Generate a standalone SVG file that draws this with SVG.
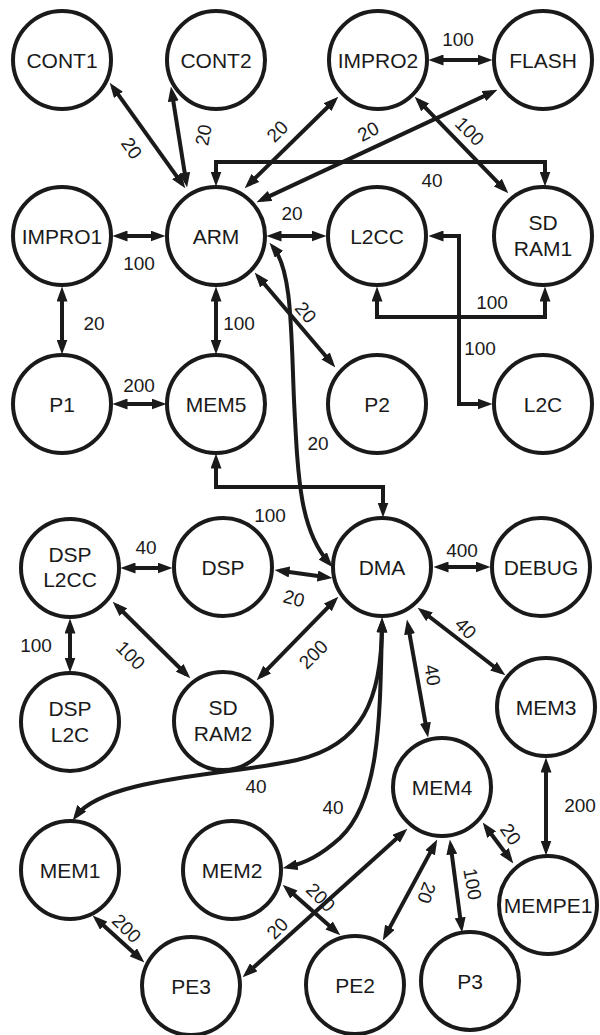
<svg xmlns="http://www.w3.org/2000/svg" width="600" height="1035" viewBox="0 0 600 1035">
  <style>
    .node circle { fill: #ffffff; stroke: #1a1a1a; stroke-width: 4; }
    .node text { font-family: "Liberation Sans", Arial, sans-serif; font-size: 21px; fill: #1a1a1a; text-anchor: middle; }
    .edge { fill: none; stroke: #1a1a1a; stroke-width: 4; marker-start: url(#ah); marker-end: url(#ah); }
    .lbl { font-family: "Liberation Sans", Arial, sans-serif; font-size: 19px; fill: #1a1a1a; text-anchor: middle; }
  </style>
  <defs>
    <marker id="ah" viewBox="0 0 15 11" refX="9.5" refY="5.5" markerWidth="15" markerHeight="11" markerUnits="userSpaceOnUse" orient="auto-start-reverse">
      <path d="M0,0 L15,5.5 L0,11 z" fill="#1a1a1a"/>
    </marker>
  </defs>
  <rect width="600" height="1035" fill="#ffffff"/>

  <!-- connectors -->
  <g id="connectors">
    <path class="edge" d="M112.9,87.1 L182.1,183.9"/>
    <path class="edge" d="M171.8,91.9 L186.2,182.1"/>
    <path class="edge" d="M248.6,184.5 L334.4,100.5"/>
    <path class="edge" d="M261.5,199.9 L492.5,92.1"/>
    <path class="edge" d="M418.5,100.6 L504.5,189.4"/>
    <path class="edge" d="M434,60 L487,60"/>
    <path class="edge" d="M216,181 L216,162 L545,162 L545,181"/>
    <path class="edge" d="M118,236 L160,236"/>
    <path class="edge" d="M272,236 L321,236"/>
    <path class="edge" d="M62,292 L62,349"/>
    <path class="edge" d="M216,292 L216,349"/>
    <path class="edge" d="M258.2,276.8 L331.8,363.2"/>
    <path class="edge" d="M273,247 C292,270 291,330 294,400 C298,480 300,530 329,563"/>
    <path class="edge" d="M377,292 L377,317 L545,317 L545,292"/>
    <path class="edge" d="M434,236 L459,236 L459,404 L487,404"/>
    <path class="edge" d="M118,404 L161,404"/>
    <path class="edge" d="M216,459 L216,487 L383,487 L383,512"/>
    <path class="edge" d="M126,568 L167,568"/>
    <path class="edge" d="M280,570.7 L327,577.3"/>
    <path class="edge" d="M439,567 L485,567"/>
    <path class="edge" d="M70,624 L70,667"/>
    <path class="edge" d="M116.6,605.5 L186.4,674.5"/>
    <path class="edge" d="M334.5,600.6 L260.5,676.4"/>
    <path class="edge" d="M422,611 L501,672"/>
    <path class="edge" d="M407.9,624.9 L427.1,732.1"/>
    <path class="edge" d="M382,623 C382,700 362,745 297,760 C232,775 105,777 76,816"/>
    <path class="edge" d="M382,623 C380,720 380,800 340,838 C320,856 305,863 288,867"/>
    <path class="edge" d="M546,763 L546,850"/>
    <path class="edge" d="M486,827 L510,859"/>
    <path class="edge" d="M450.6,845 L461.4,927"/>
    <path class="edge" d="M434.6,844.4 L385.4,935.6"/>
    <path class="edge" d="M403.3,832.4 L246.7,973.6"/>
    <path class="edge" d="M286.8,888.3 L336.2,931.7"/>
    <path class="edge" d="M96.7,919.3 L140.3,958.7"/>
  </g>

  <!-- connector labels -->
  <g id="edge-labels">
    <text class="lbl" transform="translate(132,148) rotate(55)" y="7">20</text>
    <text class="lbl" transform="translate(203,135) rotate(-80)" y="7">20</text>
    <text class="lbl" transform="translate(277,131) rotate(-45)" y="7">20</text>
    <text class="lbl" transform="translate(368,131) rotate(-28)" y="7">20</text>
    <text class="lbl" transform="translate(470,131) rotate(45)" y="7">100</text>
    <text class="lbl" x="458" y="46">100</text>
    <text class="lbl" x="432" y="187">40</text>
    <text class="lbl" x="139" y="270">100</text>
    <text class="lbl" x="292" y="220">20</text>
    <text class="lbl" x="94" y="330">20</text>
    <text class="lbl" x="239" y="330">100</text>
    <text class="lbl" transform="translate(306,312) rotate(50)" y="7">20</text>
    <text class="lbl" x="318" y="450">20</text>
    <text class="lbl" x="492" y="309">100</text>
    <text class="lbl" x="480" y="355">100</text>
    <text class="lbl" x="139" y="392">200</text>
    <text class="lbl" x="270" y="522">100</text>
    <text class="lbl" x="146" y="554">40</text>
    <text class="lbl" transform="translate(294,598) rotate(15)" y="7">20</text>
    <text class="lbl" x="462" y="557">400</text>
    <text class="lbl" x="36" y="652">100</text>
    <text class="lbl" transform="translate(131,655) rotate(45)" y="7">100</text>
    <text class="lbl" transform="translate(313,654) rotate(-45)" y="7">200</text>
    <text class="lbl" transform="translate(466,628) rotate(45)" y="7">40</text>
    <text class="lbl" transform="translate(433,675) rotate(80)" y="7">40</text>
    <text class="lbl" x="256" y="793">40</text>
    <text class="lbl" x="333" y="814">40</text>
    <text class="lbl" x="580" y="812">200</text>
    <text class="lbl" transform="translate(511,834) rotate(55)" y="7">20</text>
    <text class="lbl" transform="translate(473,884) rotate(80)" y="7">100</text>
    <text class="lbl" transform="translate(427,893) rotate(110)" y="7">20</text>
    <text class="lbl" transform="translate(277,928) rotate(-45)" y="7">20</text>
    <text class="lbl" transform="translate(321,897) rotate(45)" y="7">200</text>
    <text class="lbl" transform="translate(127,928) rotate(45)" y="7">200</text>
  </g>

  <!-- nodes -->
  <g id="CONT1" class="node"><circle cx="62" cy="60" r="49"/><text x="62" y="67.5">CONT1</text></g>
  <g id="CONT2" class="node"><circle cx="216" cy="60" r="49"/><text x="216" y="67.5">CONT2</text></g>
  <g id="IMPRO2" class="node"><circle cx="378" cy="60" r="49"/><text x="378" y="67.5">IMPRO2</text></g>
  <g id="FLASH" class="node"><circle cx="543" cy="60" r="49"/><text x="543" y="67.5">FLASH</text></g>

  <g id="IMPRO1" class="node"><circle cx="62" cy="236" r="49"/><text x="62" y="243.5">IMPRO1</text></g>
  <g id="ARM" class="node"><circle cx="216" cy="236" r="49"/><text x="216" y="243.5">ARM</text></g>
  <g id="L2CC" class="node"><circle cx="377" cy="236" r="49"/><text x="377" y="243.5">L2CC</text></g>
  <g id="SDRAM1" class="node"><circle cx="543" cy="236" r="49"/><text x="543" y="230">SD</text><text x="543" y="256">RAM1</text></g>

  <g id="P1" class="node"><circle cx="62" cy="404" r="49"/><text x="62" y="411.5">P1</text></g>
  <g id="MEM5" class="node"><circle cx="216" cy="404" r="49"/><text x="216" y="411.5">MEM5</text></g>
  <g id="P2" class="node"><circle cx="377" cy="404" r="49"/><text x="377" y="411.5">P2</text></g>
  <g id="L2C" class="node"><circle cx="543" cy="404" r="49"/><text x="543" y="411.5">L2C</text></g>

  <g id="DSPL2CC" class="node"><circle cx="70" cy="568" r="49"/><text x="70" y="562">DSP</text><text x="70" y="587">L2CC</text></g>
  <g id="DSP" class="node"><circle cx="223" cy="567" r="49"/><text x="223" y="574.5">DSP</text></g>
  <g id="DMA" class="node"><circle cx="382" cy="567" r="49"/><text x="382" y="574.5">DMA</text></g>
  <g id="DEBUG" class="node"><circle cx="541" cy="567" r="49"/><text x="541" y="574.5">DEBUG</text></g>

  <g id="DSPL2C" class="node"><circle cx="70" cy="722" r="49"/><text x="70" y="716">DSP</text><text x="70" y="742">L2C</text></g>
  <g id="SDRAM2" class="node"><circle cx="223" cy="721" r="49"/><text x="223" y="715">SD</text><text x="223" y="741">RAM2</text></g>
  <g id="MEM3" class="node"><circle cx="546" cy="707" r="49"/><text x="546" y="714.5">MEM3</text></g>
  <g id="MEM4" class="node"><circle cx="442" cy="787" r="49"/><text x="442" y="794.5">MEM4</text></g>

  <g id="MEM1" class="node"><circle cx="70" cy="870" r="49"/><text x="70" y="877.5">MEM1</text></g>
  <g id="MEM2" class="node"><circle cx="232" cy="870" r="49"/><text x="232" y="877.5">MEM2</text></g>
  <g id="MEMPE1" class="node"><circle cx="548" cy="905" r="49"/><text x="548" y="912.5">MEMPE1</text></g>

  <g id="PE3" class="node"><circle cx="191" cy="986" r="49"/><text x="191" y="993.5">PE3</text></g>
  <g id="PE2" class="node"><circle cx="355" cy="985" r="49"/><text x="355" y="992.5">PE2</text></g>
  <g id="P3" class="node"><circle cx="470" cy="981" r="49"/><text x="470" y="988.5">P3</text></g>
</svg>
